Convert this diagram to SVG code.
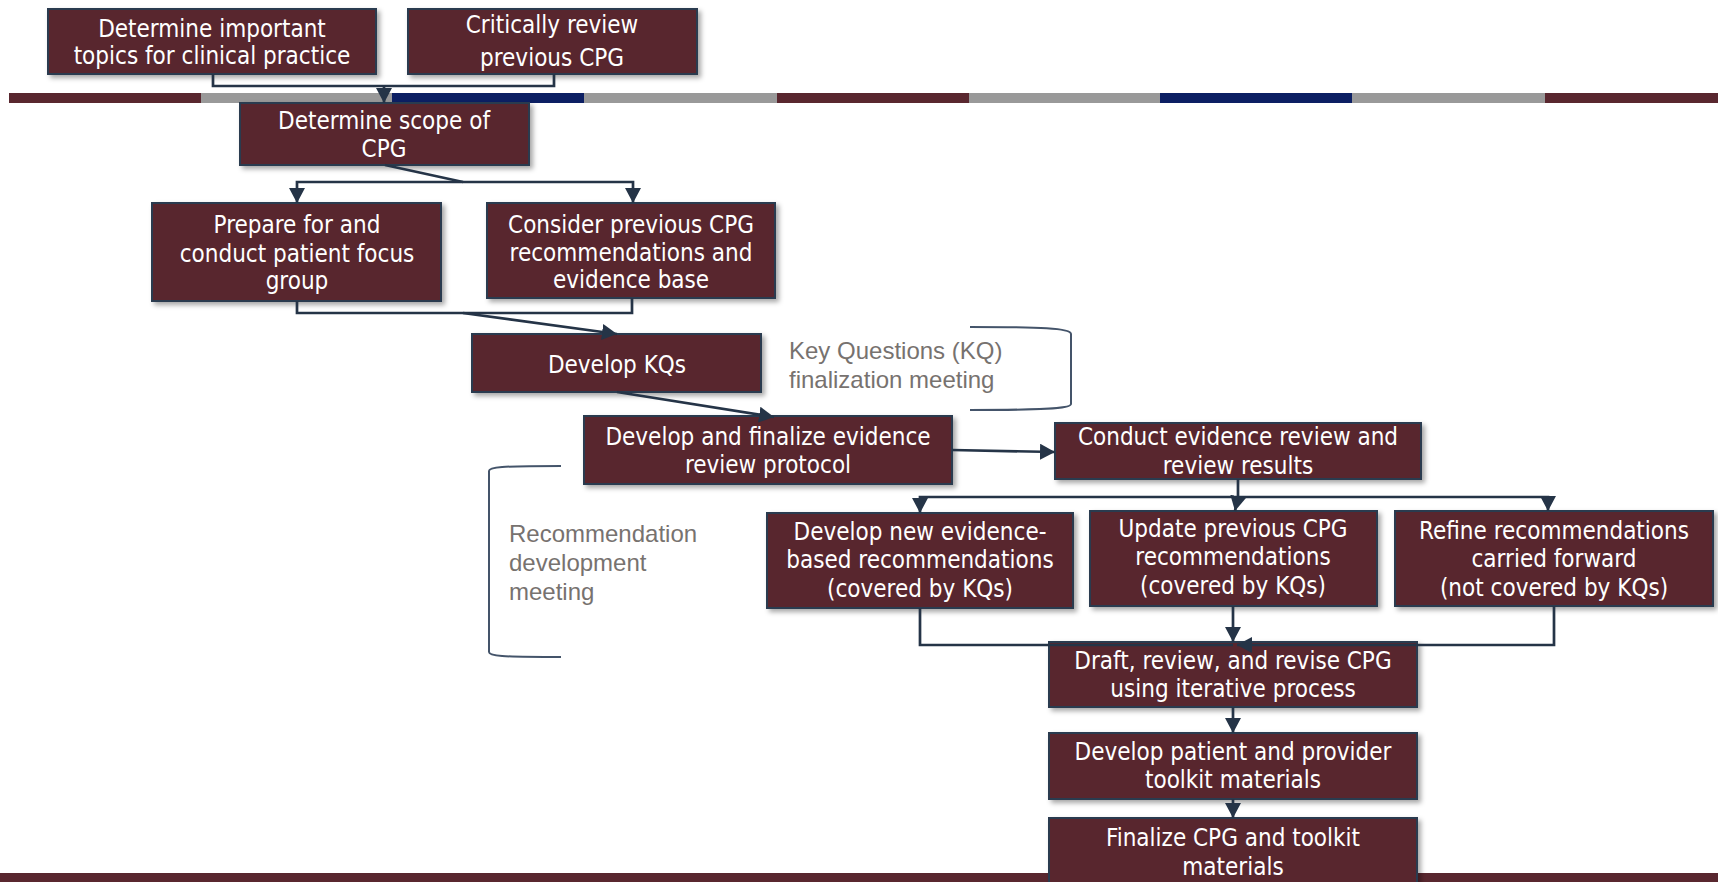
<svg xmlns="http://www.w3.org/2000/svg" width="1718" height="882" viewBox="0 0 1718 882">
<style>
.node rect{fill:#59272f;stroke:#2a3a50;stroke-width:2;filter:url(#sh)}
.node text{fill:#ffffff;font-family:"DejaVu Sans Condensed","DejaVu Sans",sans-serif;font-size:24px;text-anchor:middle}
.lbl{fill:#77726f;font-family:"Liberation Sans",Arial,sans-serif;font-size:24px}
.br{fill:none;stroke:#44546a;stroke-width:2}
#connectors path{fill:none;stroke:#253447;stroke-width:2.7}
.arr{marker-end:url(#ah)}
</style>
<defs>
<filter id="sh" x="-10%" y="-10%" width="130%" height="140%">
<feDropShadow dx="3" dy="3" stdDeviation="2.5" flood-color="#000" flood-opacity="0.35"/>
</filter>
<marker id="ah" markerUnits="userSpaceOnUse" markerWidth="18" markerHeight="18" refX="15" refY="8" orient="auto">
<path d="M0,0 L15,8 L0,16 z" fill="#253447"/>
</marker>
</defs>
<rect x="0" y="0" width="1718" height="882" fill="#ffffff"/>
<g id="topbar">
<rect x="9" y="93" width="192" height="10" fill="#59272f"/>
<rect x="201" y="93" width="191" height="10" fill="#999999"/>
<rect x="392" y="93" width="192" height="10" fill="#0c1f63"/>
<rect x="584" y="93" width="193" height="10" fill="#999999"/>
<rect x="777" y="93" width="192" height="10" fill="#59272f"/>
<rect x="969" y="93" width="191" height="10" fill="#999999"/>
<rect x="1160" y="93" width="192" height="10" fill="#0c1f63"/>
<rect x="1352" y="93" width="193" height="10" fill="#999999"/>
<rect x="1545" y="93" width="173" height="10" fill="#59272f"/>
</g>
<rect id="bottombar" x="0" y="873" width="1718" height="9" fill="#59272f"/>
<g id="brackets">
<path class="br" d="M970,327 C1040,327 1071,328 1071,334 V404 C1071,409 1040,410 970,410"/>
<path class="br" d="M561,466 C500,466 489,467 489,471 V652 C489,656 500,657 561,657"/>
<text class="lbl" x="789" y="359">Key Questions (KQ)</text>
<text class="lbl" x="789" y="388">finalization meeting</text>
<text class="lbl" x="509" y="542">Recommendation</text>
<text class="lbl" x="509" y="571">development</text>
<text class="lbl" x="509" y="600">meeting</text>
</g>
<g id="nA" class="node"><rect x="48" y="9" width="328" height="65"/>
<text x="212" y="37">Determine important</text><text x="212" y="64">topics for clinical practice</text></g>
<g id="nB" class="node"><rect x="408" y="9" width="289" height="65"/>
<text x="552" y="33">Critically review</text><text x="552" y="66">previous CPG</text></g>
<g id="nC" class="node"><rect x="240" y="103" width="289" height="62"/>
<text x="384" y="129">Determine scope of</text><text x="384" y="157">CPG</text></g>
<g id="nD" class="node"><rect x="152" y="203" width="289" height="98"/>
<text x="297" y="233">Prepare for and</text><text x="297" y="262">conduct patient focus</text><text x="297" y="289">group</text></g>
<g id="nE" class="node"><rect x="487" y="203" width="288" height="95"/>
<text x="631" y="233">Consider previous CPG</text><text x="631" y="261">recommendations and</text><text x="631" y="288">evidence base</text></g>
<g id="nF" class="node"><rect x="472" y="334" width="289" height="58"/>
<text x="617" y="373">Develop KQs</text></g>
<g id="nG" class="node"><rect x="584" y="416" width="368" height="68"/>
<text x="768" y="445">Develop and finalize evidence</text><text x="768" y="473">review protocol</text></g>
<g id="nH" class="node"><rect x="1055" y="423" width="366" height="56"/>
<text x="1238" y="445">Conduct evidence review and</text><text x="1238" y="474">review results</text></g>
<g id="nI" class="node"><rect x="767" y="513" width="306" height="95"/>
<text x="920" y="540">Develop new evidence-</text><text x="920" y="568">based recommendations</text><text x="920" y="597">(covered by KQs)</text></g>
<g id="nJ" class="node"><rect x="1090" y="511" width="287" height="95"/>
<text x="1233" y="537">Update previous CPG</text><text x="1233" y="565">recommendations</text><text x="1233" y="594">(covered by KQs)</text></g>
<g id="nK" class="node"><rect x="1395" y="511" width="318" height="95"/>
<text x="1554" y="539">Refine recommendations</text><text x="1554" y="567">carried forward</text><text x="1554" y="596">(not covered by KQs)</text></g>
<g id="nL" class="node"><rect x="1049" y="642" width="368" height="65"/>
<text x="1233" y="669">Draft, review, and revise CPG</text><text x="1233" y="697">using iterative process</text></g>
<g id="nM" class="node"><rect x="1049" y="733" width="368" height="66"/>
<text x="1233" y="760">Develop patient and provider</text><text x="1233" y="788">toolkit materials</text></g>
<g id="nN" class="node"><rect x="1049" y="818" width="368" height="80"/>
<text x="1233" y="846">Finalize CPG and toolkit</text><text x="1233" y="875">materials</text></g>
<g id="connectors">
<path d="M213,74 V86 H554 V74"/>
<path class="arr" d="M384,86 V103"/>
<path d="M385,165 L463,182"/>
<path class="arr" d="M463,182 H297 V203"/>
<path class="arr" d="M463,182 H633 V203"/>
<path d="M297,301 V313 H632 V298"/>
<path class="arr" d="M463,313 L617,334"/>
<path class="arr" d="M617,392 L774,417"/>
<path class="arr" d="M952,450 L1055,452"/>
<path class="arr" d="M1238,479 V497 H920 V513"/>
<path class="arr" d="M1238,497 H1548 V511"/>
<path class="arr" d="M1238,497 L1235,511"/>
<path d="M920,608 V645 H1233"/>
<path class="arr" d="M1554,606 V645 H1237"/>
<path class="arr" d="M1233,606 V642"/>
<path class="arr" d="M1233,707 V733"/>
<path class="arr" d="M1233,799 V818"/>
</g>
</svg>
